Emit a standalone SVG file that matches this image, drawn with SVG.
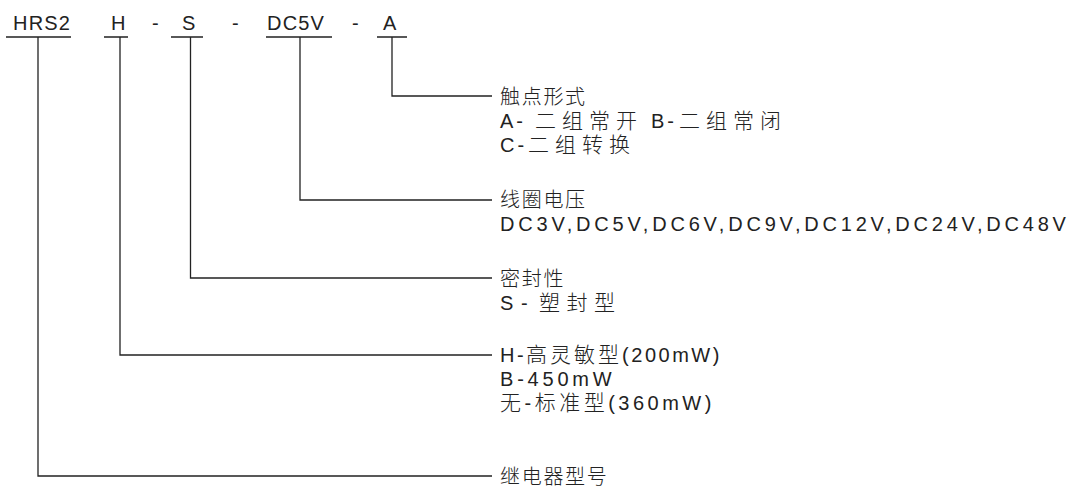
<svg xmlns="http://www.w3.org/2000/svg" width="1083" height="489" viewBox="0 0 1083 489">
<style>
text{font-family:"Liberation Sans","Noto Sans CJK SC",sans-serif;font-size:20px;fill:#222}
.h{letter-spacing:1.7px;font-weight:300}
.c{font-weight:300;font-size:21px}
.w{letter-spacing:6px}
.ln{stroke:#222;stroke-width:1.3;fill:none}
</style>
<rect width="1083" height="489" fill="#fff"/>
<g id="code">
<text x="13" y="30" style="letter-spacing:1.2px">HRS2</text>
<text x="111" y="30">H</text>
<text x="152" y="30">-</text>
<text x="182" y="30">S</text>
<text x="232" y="30">-</text>
<text x="267" y="30" style="letter-spacing:1.2px">DC5V</text>
<text x="352" y="30">-</text>
<text x="383" y="30">A</text>
</g>
<g id="connectors" class="ln">
<path d="M6 37H71M104 37H128M171 37H203M266 37H332M377 37H407"/>
<path d="M392 37V96H492"/>
<path d="M300 37V200H492"/>
<path d="M190.5 37V278H492"/>
<path d="M120 37V355H492"/>
<path d="M38 37V476H492"/>
</g>
<g id="contact">
<text x="500" y="104" class="h">触点形式</text>
<text x="500" y="128" style="letter-spacing:3px">A-<tspan x="535" class="c w">二组常开</tspan><tspan x="651">B-</tspan><tspan x="679" class="c w">二组常闭</tspan></text>
<text x="500" y="152" style="letter-spacing:3px">C-<tspan x="528" class="c w">二组转换</tspan></text>
</g>
<g id="coil">
<text x="500" y="207" class="h">线圈电压</text>
<text x="500" y="231" style="letter-spacing:3.8px">DC3V,DC5V,DC6V,DC9V,DC12V,DC24V,DC48V</text>
</g>
<g id="seal">
<text x="500" y="286" class="h">密封性</text>
<text x="500" y="310">S<tspan x="521">-</tspan><tspan x="539" class="c" style="letter-spacing:6.5px">塑封型</tspan></text>
</g>
<g id="power">
<text x="500" y="362" style="letter-spacing:2.5px">H-<tspan class="c" style="letter-spacing:3px">高灵敏型</tspan>(200mW)</text>
<text x="500" y="386" style="letter-spacing:3.8px">B-450mW</text>
<text x="500" y="410" style="letter-spacing:3.5px"><tspan class="c">无</tspan>-<tspan class="c">标准型</tspan>(360mW)</text>
</g>
<g id="model">
<text x="500" y="484" class="h">继电器型号</text>
</g>
</svg>
